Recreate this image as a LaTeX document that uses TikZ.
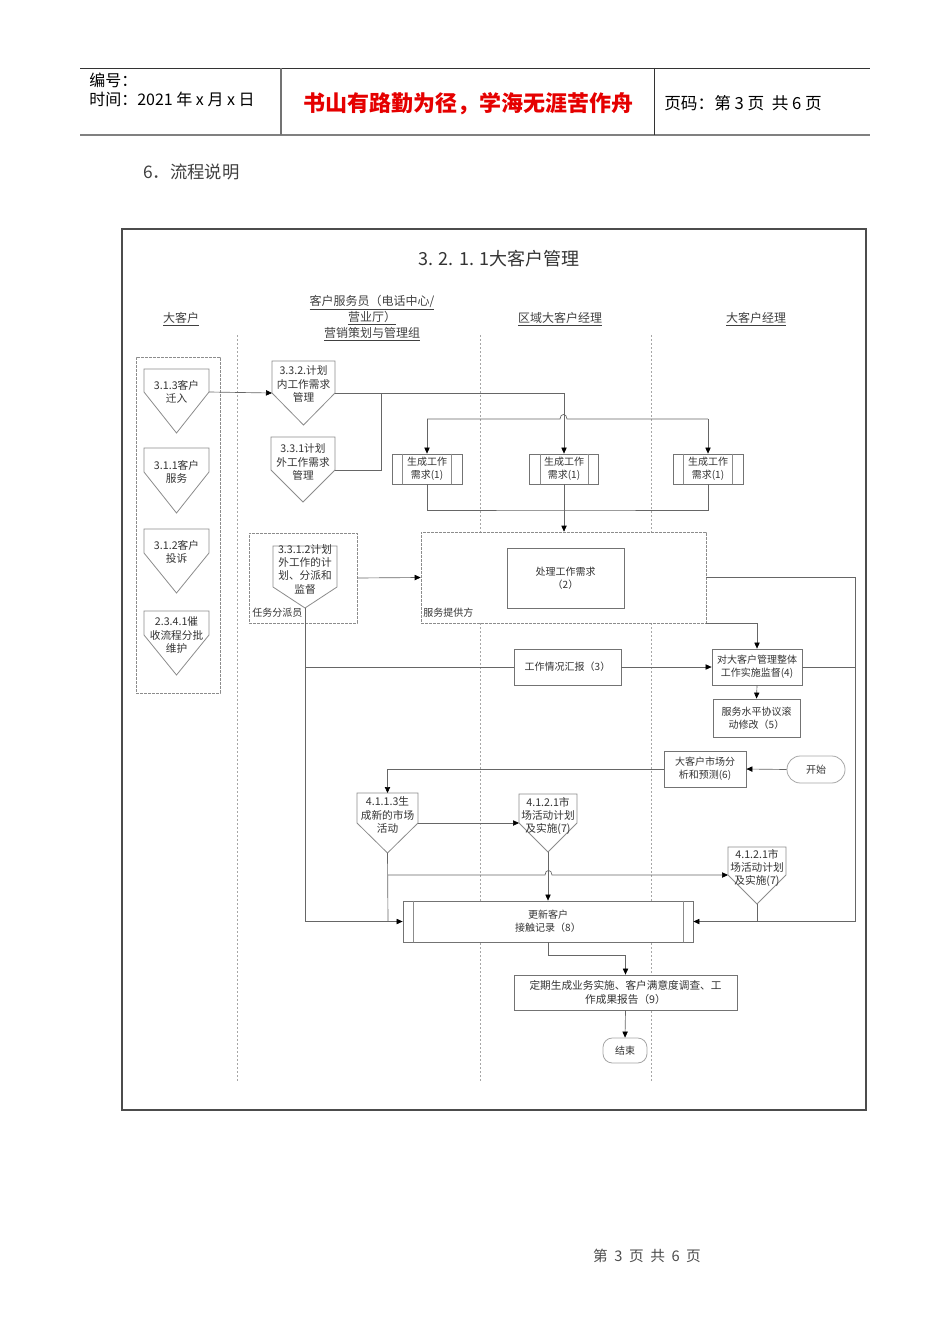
\documentclass[tikz,border=0pt]{standalone}
\usepackage{fontspec}
\setmainfont{Noto Sans CJK SC}
\usetikzlibrary{arrows.meta,calc}
\newcommand\pentnode[8]{%
  \draw[pshape] (#2,#4) -- (#3,#4) -- (#3,#5) -- ({(#2+#3)/2},#6) -- (#2,#5) -- cycle;
  \node[ptext] (#1) at ({(#2+#3)/2},#7) {#8};
  \coordinate (#1-N) at ({(#2+#3)/2},#4);
  \coordinate (#1-E) at (#3,#5);
  \coordinate (#1-W) at (#2,#5);
  \coordinate (#1-tip) at ({(#2+#3)/2},#6);
}
\begin{document}
\begin{tikzpicture}[x=0.75pt,y=-0.75pt,
  conn/.style={draw=black!60, line width=0.5pt},
  arr/.style={conn,-{Triangle[length=4.5pt,width=4pt,color=black]}},
  pshape/.style={draw=black!45, fill=white, line width=0.6pt},
  ptext/.style={font=\fontsize{8}{10}\selectfont, text=black!80, align=center, inner sep=0pt},
  wh/.style 2 args={minimum width=#1*0.75pt, minimum height=#2*0.75pt},
  box/.style={draw=black!55, fill=white, line width=0.6pt, font=\fontsize{7.5}{9.5}\selectfont, text=black!80, align=center, inner sep=1pt},
  dbox/.style={draw=black!45, fill=white, dash pattern=on 2pt off 1pt, line width=0.5pt, inner sep=0pt},
  lane/.style={draw=black!35, dash pattern=on 1.5pt off 1.5pt, line width=0.4pt},
  hdr/.style={font=\fontsize{9}{11}\selectfont, text=black!75, align=center, inner sep=0pt},
  small/.style={font=\fontsize{7.5}{9.5}\selectfont, text=black!80, inner sep=0pt, anchor=west}
]
\useasboundingbox (0,0) rectangle (950,1344);

% ---------- page header ----------
\draw[black!80, line width=0.7pt] (80,68) -- (870,68);
\draw[black!50, line width=1.5pt] (80,135) -- (870,135);
\draw[black!55, line width=1pt] (281,68) -- (281,135);
\draw[black!80, line width=0.7pt] (654,68) -- (654,135);
\node[anchor=west, inner sep=0pt, font=\fontsize{12}{14}\selectfont] (hnum) at (89,80) {编号：};
\node[anchor=west, inner sep=0pt, font=\fontsize{12}{14}\selectfont] (htime) at (89,99) {时间：2021 年 x 月 x 日};
\node[inner sep=0pt, font=\bfseries\fontsize{16.5}{18}\selectfont, text=red!90!black] (hmotto) at (468,104) {书山有路勤为径，学海无涯苦作舟};
\node[anchor=west, inner sep=0pt, font=\fontsize{12.5}{14}\selectfont] (hpage) at (664,103) {页码：第 3 页 \ 共 6 页};
\node[anchor=west, inner sep=0pt, font=\fontsize{13}{15}\selectfont, text=black!75] (sec) at (143,172) {6．流程说明};
\node[inner sep=0pt, font=\fontsize{11}{13}\selectfont, text=black!70] (foot) at (647,1256) {第 \ 3 \ 页 \ 共 \ 6 \ 页};

% ---------- frame ----------
\draw[black!70, line width=0.9pt] (122,229) rectangle (866,1110);
\node[inner sep=0pt, font=\fontsize{13.5}{15}\selectfont, text=black!80] (title) at (499,259) {3. 2. 1. 1大客户管理};

% lane headers
\node[hdr] (laneA) at (181,319) {\underline{大客户}};
\node[hdr] (laneB1) at (372,303) {\underline{客户服务员（电话中心/}};
\node[hdr] (laneB2) at (372,318) {\underline{营业厅）}};
\node[hdr] (laneB3) at (372,334) {\underline{营销策划与管理组}};
\node[hdr] (laneC) at (560,319) {\underline{区域大客户经理}};
\node[hdr] (laneD) at (756,319) {\underline{大客户经理}};

% lane separators
\draw[lane] (237,335) -- (237,1083);
\draw[lane] (480,335) -- (480,1083);
\draw[lane] (651,335) -- (651,1083);

% ---------- dashed groups ----------
\node[dbox, wh={84}{336}] (grpA) at (178,525) {};
\node[dbox, wh={108}{90}] (td) at (303,578) {};
\node[small] (tdlab) at (252,613) {任务分派员};
\node[dbox, wh={285}{91}] (sp) at (563.5,577.5) {};
\node[small] (splab) at (423,613) {服务提供方};

% ---------- pentagons ----------
\pentnode{p313}{144}{209}{369}{392}{433}{392}{3.1.3客户\\迁入}
\pentnode{p311}{144}{209}{448}{472}{513}{472}{3.1.1客户\\服务}
\pentnode{p312}{144}{209}{529}{553}{593}{552}{3.1.2客户\\投诉}
\pentnode{p2341}{144}{209}{611}{635}{675}{635}{2.3.4.1催\\收流程分批\\维护}
\pentnode{p332}{272}{335}{361}{393}{425}{384}{3.3.2.计划\\内工作需求\\管理}
\pentnode{p331}{271}{335}{437}{470}{502}{462}{3.3.1计划\\外工作需求\\管理}
\pentnode{p3312}{273}{337}{546}{587}{608}{569}{3.3.1.2计划\\外工作的计\\划、分派和\\监督}
\pentnode{p4113}{357}{418}{793}{823}{853}{815}{4.1.1.3生\\成新的市场\\活动}
\pentnode{p4121a}{519}{577}{794}{823}{852}{816}{4.1.2.1市\\场活动计划\\及实施(7)}
\pentnode{p4121b}{728}{786}{847}{875}{904}{868}{4.1.2.1市\\场活动计划\\及实施(7)}

% ---------- boxes ----------
\node[box, wh={70}{30}] (g1) at (427,469) {生成工作\\需求(1)};
\node[box, wh={69}{30}] (g2) at (564,469) {生成工作\\需求(1)};
\node[box, wh={70}{30}] (g3) at (708,469) {生成工作\\需求(1)};
\foreach \g in {g1,g2,g3}{
  \draw[pshape] ($(\g.north west)+(11,0)$) -- ($(\g.south west)+(11,0)$);
  \draw[pshape] ($(\g.north east)+(-11,0)$) -- ($(\g.south east)+(-11,0)$);
}
\node[box, wh={117}{60}] (h2) at (565.5,578) {处理工作需求\\（2）};
\node[box, wh={107}{36}] (r3) at (567.5,667) {工作情况汇报（3）};
\node[box, wh={90}{36}] (r4) at (757,667) {对大客户管理整体\\工作实施监督(4)};
\node[box, wh={87}{38}] (r5) at (756.5,718) {服务水平协议滚\\动修改（5）};
\node[box, wh={82}{36}] (r6) at (705,769) {大客户市场分\\析和预测(6)};
\node[box, draw=black!35, wh={58}{27}, rounded corners=10pt] (start) at (816,769.5) {开始};
\node[box, wh={290}{41}] (r8) at (548,921.5) {更新客户\\接触记录（8）};
\draw[pshape] ($(r8.north west)+(11,0)$) -- ($(r8.south west)+(11,0)$);
\draw[pshape] ($(r8.north east)+(-10,0)$) -- ($(r8.south east)+(-10,0)$);
\node[box, wh={223}{35}, font=\fontsize{8}{10}\selectfont] (r9) at (625.5,992.5) {定期生成业务实施、客户满意度调查、工\\作成果报告（9）};
\node[box, draw=black!35, wh={44}{25}, rounded corners=7pt] (endn) at (625,1050.5) {结束};

% ---------- junction coordinates ----------
\coordinate (j1) at (381,393);
\coordinate (hopL) at (427,419);
\coordinate (hopR) at (708,419);
\coordinate (j2) at (564,510);
\coordinate (j3) at (305,667);
\coordinate (rx) at (855,0);
\coordinate (j5) at (388,921.5);
\coordinate (j6) at (388,875);
\coordinate (j7) at (757,921.5);

% ---------- connectors ----------
\draw[arr] (p313-E) -- (p332-W);
\draw[arr] (p332-E) -| (g2.north);
\draw[conn] (p331-E) -| (j1);
\draw[conn] (hopL) -- (560,419) .. controls (560,413) and (567,413) .. (567,419) -- (hopR);
\draw[arr] (hopL) -- (g1.north);
\draw[arr] (hopR) -- (g3.north);
\draw[conn] (g1.south) |- (j2) -| (g3.south);
\draw[arr] (g2.south) -- (g2.south |- sp.north);
\draw[arr] (td.east) -- (sp.west);
\draw[arr] (p3312-tip) |- (r8.west);
\draw[conn] (j3) -- (r3.west);
\draw[arr] (r3.east) -- (r4.west);
\draw[arr] (sp.south east) -| (r4.north);
\draw[arr] (sp.east) -- (sp.east -| rx) |- (r8.east);
\draw[conn] (r4.east) -- (r4.east -| rx);
\draw[arr] (r4.south) -- (r5.north);
\draw[arr] (start.west) -- (r6.east);
\draw[arr] (r6.west) -| (p4113-N);
\draw[arr] (p4113-E) -- (p4121a-W);
\draw[arr] (p4121a-tip) -- (r8.north);
\draw[conn] (p4113-tip) -- (j5);
\draw[arr] (j6) -- (545,875) .. controls (545,869) and (552,869) .. (552,875) -- (p4121b-W);
\draw[conn] (p4121b-tip) -- (j7);
\draw[arr] (r8.south) -- ++(0,13) -| (r9.north);
\draw[arr] (r9.south) -- (endn.north);
\end{tikzpicture}
\end{document}
